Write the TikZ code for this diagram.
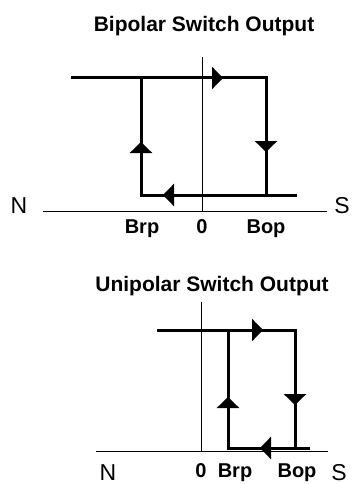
\documentclass[tikz,border=0pt]{standalone}
\usepackage{fontspec}
\setmainfont{Liberation Sans}
\usetikzlibrary{arrows.meta}
\tikzset{
    axisline/.style={line width=1pt},
    hystline/.style={line width=3pt},
    flow/.style={line width=3pt,-{Triangle[length=11pt,width=22pt]}},
    heading/.style={font=\fontsize{21}{24}\selectfont\bfseries,anchor=base},
    fieldlabel/.style={font=\fontsize{20}{24}\selectfont\bfseries,anchor=base},
    polelabel/.style={font=\fontsize{23}{26}\selectfont,anchor=base,inner sep=1pt}
}
\begin{document}
\begin{tikzpicture}[x=1pt,y=-1pt]
    \useasboundingbox (0,0) rectangle (351,484);
    % bipolar
    \node[heading] (bititle) at (204,32) {Bipolar Switch Output};
    \draw[axisline] (43,211) -- (327,211);
    \draw[axisline] (202,57) -- (202,211);
    \draw[hystline] (71,78) -- (266,78) -- (266,195);
    \draw[hystline] (297,195) -- (141,195) -- (141,78);
    \draw[flow] (200,78) -- (223,78);
    \draw[flow] (266,120) -- (266,152);
    \draw[flow] (200,195) -- (163,195);
    \draw[flow] (141,175) -- (141,142);
    \node[polelabel] (biN) at (19,213) {N};
    \node[polelabel] (biS) at (342,213) {S};
    \node[fieldlabel] (bibrp) at (142,233) {Brp};
    \node[fieldlabel] (bizero) at (202,233) {0};
    \node[fieldlabel] (bibop) at (266,233) {Bop};
    % unipolar
    \node[heading] (unititle) at (212,291) {Unipolar Switch Output};
    \draw[axisline] (96,451) -- (328,451);
    \draw[axisline] (201,302) -- (201,451);
    \draw[hystline] (157,330) -- (295,330) -- (295,448);
    \draw[hystline] (310,448) -- (228,448) -- (228,330);
    \draw[flow] (240,330) -- (263,330);
    \draw[flow] (295,370) -- (295,405);
    \draw[flow] (290,448) -- (260,448);
    \draw[flow] (228,425) -- (228,397);
    \node[polelabel] (uniN) at (108,480) {N};
    \node[polelabel] (uniS) at (339,480) {S};
    \node[fieldlabel] (unizero) at (201,477) {0};
    \node[fieldlabel] (unibrp) at (235,477) {Brp};
    \node[fieldlabel] (unibop) at (297,477) {Bop};
\end{tikzpicture}
\end{document}
